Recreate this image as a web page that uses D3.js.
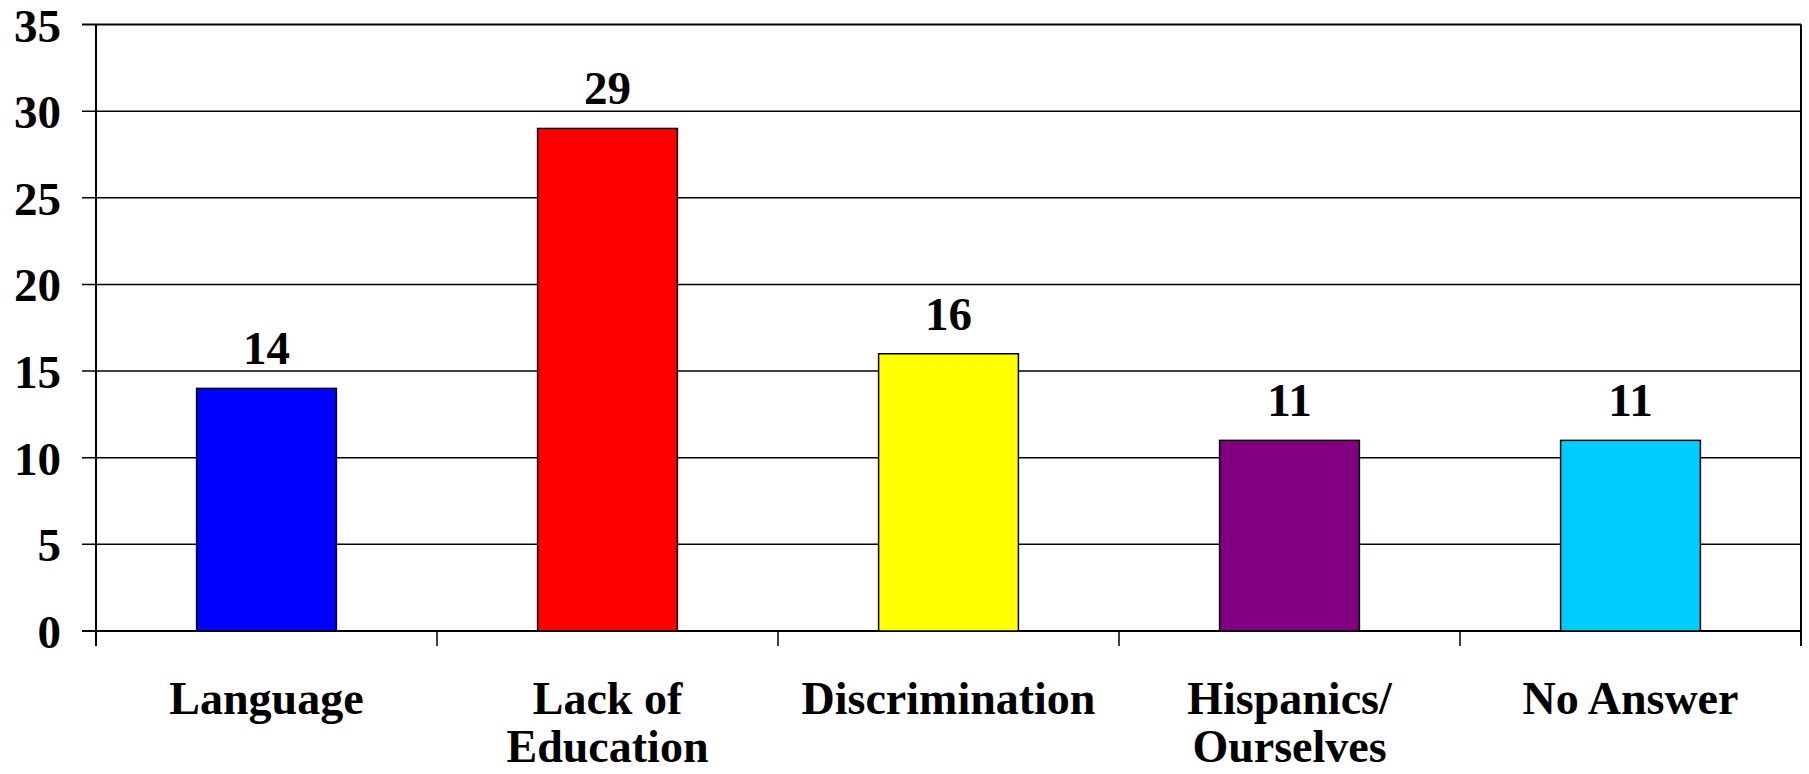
<!DOCTYPE html>
<html>
<head>
<meta charset="utf-8">
<script src="https://cdn.jsdelivr.net/npm/d3@7"></script>
<style>
  html, body { margin: 0; padding: 0; background: #fff; }
  svg { display: block; }
</style>
</head>
<body>
<div id="chart"></div>
<script>
// 데이터
const categories = [["Language"], ["Lack of", "Education"], ["Discrimination"], ["Hispanics/", "Ourselves"], ["No Answer"]];
const values = [14, 29, 16, 11, 11];
const barColors = ["#0000FF", "#FF0000", "#FFFF00", "#800080", "#00CCFF"];
const yTicks = [0, 5, 10, 15, 20, 25, 30, 35];

const width = 1809;
const height = 774;
const margin = { left: 96, right: 8, top: 24.5, bottom: 143 };
const font = "'Liberation Serif', 'Times New Roman', serif";

const svg = d3.select("#chart").append("svg")
  .attr("width", width)
  .attr("height", height)
  .style("font-family", font)
  .style("font-weight", "bold");

const names = categories.map(d => d.join(" "));

const x = d3.scaleBand()
  .domain(names)
  .range([margin.left, width - margin.right]);

const y = d3.scaleLinear()
  .domain([0, 35])
  .range([height - margin.bottom, margin.top]);

// 그리드 라인
svg.append("g")
  .selectAll("line")
  .data(yTicks)
  .enter().append("line")
  .attr("x1", margin.left - 14)
  .attr("x2", width - margin.right)
  .attr("y1", d => y(d))
  .attr("y2", d => y(d))
  .attr("stroke", "#000")
  .attr("stroke-width", d => d === 0 || d === 35 ? 2 : 1.5);

// 오른쪽 테두리
svg.append("line")
  .attr("x1", width - margin.right).attr("x2", width - margin.right)
  .attr("y1", margin.top).attr("y2", y(0) + 15)
  .attr("stroke", "#000").attr("stroke-width", 2);

// y축 라인
svg.append("line")
  .attr("x1", margin.left).attr("x2", margin.left)
  .attr("y1", margin.top).attr("y2", y(0) + 15)
  .attr("stroke", "#000").attr("stroke-width", 2);

// x축 눈금
svg.append("g")
  .selectAll("line")
  .data(names.slice(1))
  .enter().append("line")
  .attr("x1", d => x(d)).attr("x2", d => x(d))
  .attr("y1", y(0)).attr("y2", y(0) + 15)
  .attr("stroke", "#000").attr("stroke-width", 1.5);

// y축 레이블
svg.append("g")
  .selectAll("text")
  .data(yTicks)
  .enter().append("text")
  .attr("x", 61)
  .attr("y", d => y(d) + 17)
  .attr("text-anchor", "end")
  .style("font-size", "47px")
  .text(d => d);

// 막대
const barW = x.bandwidth() * 0.41;
svg.append("g")
  .selectAll("rect")
  .data(values)
  .enter().append("rect")
  .attr("x", (d, i) => x(names[i]) + x.bandwidth() / 2 - barW / 2)
  .attr("y", d => y(d))
  .attr("width", barW)
  .attr("height", d => y(0) - y(d))
  .attr("fill", (d, i) => barColors[i])
  .attr("stroke", "#000")
  .attr("stroke-width", 1.5);

// 값 레이블
svg.append("g")
  .selectAll("text")
  .data(values)
  .enter().append("text")
  .attr("x", (d, i) => x(names[i]) + x.bandwidth() / 2)
  .attr("y", d => y(d) - 24)
  .attr("text-anchor", "middle")
  .style("font-size", "47px")
  .text(d => d);

// x축 레이블 (줄마다 따로)
categories.forEach((lines, i) => {
  lines.forEach((line, j) => {
    svg.append("text")
      .attr("x", x(names[i]) + x.bandwidth() / 2)
      .attr("y", 714 + j * 48)
      .attr("text-anchor", "middle")
      .style("font-size", "46px")
      .text(line);
  });
});
</script>
</body>
</html>
